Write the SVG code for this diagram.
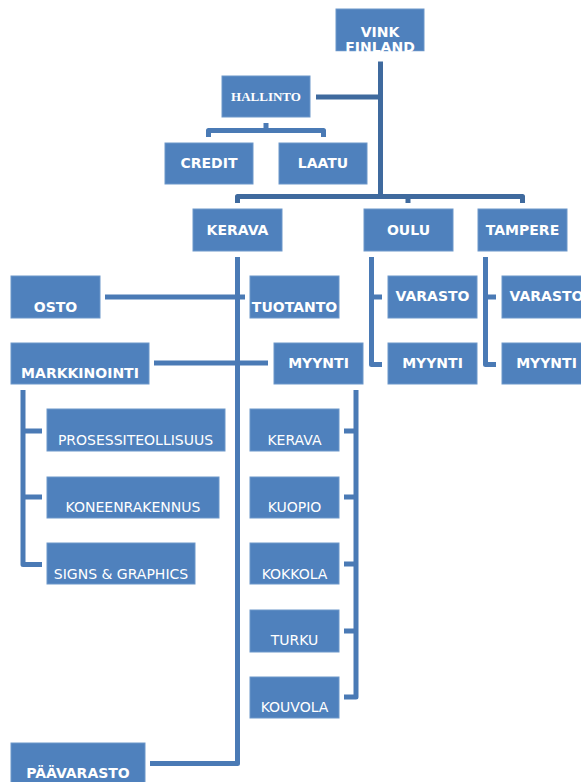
<svg xmlns="http://www.w3.org/2000/svg" width="581" height="782" viewBox="0 0 581 782">
<style>
.b{fill:#4F81BD;stroke:#6D97CA;stroke-width:1}
.t{fill:#fff;font-family:"DejaVu Sans",Verdana,sans-serif;font-size:14px;font-weight:bold;text-anchor:middle}
.n{fill:#fff;font-family:"DejaVu Sans",Verdana,sans-serif;font-size:14px;text-anchor:middle}
.s{fill:#fff;font-family:"Liberation Serif","Times New Roman",serif;font-size:13px;font-weight:bold;text-anchor:middle}
.c{fill:none;stroke:#4A7AB5;stroke-width:5;stroke-linejoin:round}
.d{fill:none;stroke:#3F6A9E;stroke-width:5;stroke-linejoin:round}
</style>
<rect width="581" height="782" fill="#fff"/>
<g id="connectors">
<path class="d" d="M380.5 56 V196"/>
<path class="d" d="M316 97 H380"/>
<path class="c" d="M208.5 137 V130.5 H323.5 V137 M266 123 V130"/>
<path class="d" d="M237.5 203 V196.5 H522.5 V203 M408 196 V203"/>
<path class="c" d="M237.5 257 V763.5 H150"/>
<path class="c" d="M105 297 H245"/>
<path class="c" d="M154 363 H268"/>
<path class="c" d="M371.5 257 V364.5 H382 M371 297 H382"/>
<path class="c" d="M485.5 257 V364.5 H496 M485 297 H496"/>
<path class="c" d="M23 390 V564.5 H42 M23 431 H42 M23 497 H42"/>
<path class="c" d="M356 390 V697 H344 M356 431 H344 M356 497 H344 M356 564 H344 M356 631 H344"/>
</g>
<g id="vink"><rect class="b" x="336" y="9" width="88" height="42"/><text class="t" x="380" y="37">VINK</text><text class="t" x="380" y="52">FINLAND</text></g>
<rect x="330" y="51.5" width="100" height="10" fill="#fff"/>
<g id="hallinto"><rect class="b" x="222" y="76" width="88" height="41"/><text class="s" x="266" y="101">HALLINTO</text></g>
<g id="credit"><rect class="b" x="165" y="143" width="88" height="41"/><text class="t" x="209" y="168">CREDIT</text></g>
<g id="laatu"><rect class="b" x="279" y="143" width="88" height="41"/><text class="t" x="323" y="168">LAATU</text></g>
<g id="kerava"><rect class="b" x="193" y="209" width="89" height="42"/><text class="t" x="237.5" y="235">KERAVA</text></g>
<g id="oulu"><rect class="b" x="364" y="209" width="89" height="42"/><text class="t" x="408.5" y="235">OULU</text></g>
<g id="tampere"><rect class="b" x="478" y="209" width="89" height="42"/><text class="t" x="522.5" y="235">TAMPERE</text></g>
<g id="osto"><rect class="b" x="11" y="276" width="89" height="42"/><text class="t" x="55.5" y="312">OSTO</text></g>
<g id="tuotanto"><rect class="b" x="250" y="276" width="89" height="42"/><text class="t" x="294.5" y="312">TUOTANTO</text></g>
<g id="oulu-varasto"><rect class="b" x="388" y="276" width="89" height="42"/><text class="t" x="432.5" y="301">VARASTO</text></g>
<g id="tampere-varasto"><rect class="b" x="502" y="276" width="89" height="42"/><text class="t" x="546.5" y="301">VARASTO</text></g>
<g id="markkinointi"><rect class="b" x="11" y="343" width="138" height="41"/><text class="t" x="80" y="378">MARKKINOINTI</text></g>
<g id="kerava-myynti"><rect class="b" x="274" y="343" width="89" height="41"/><text class="t" x="318.5" y="368">MYYNTI</text></g>
<g id="oulu-myynti"><rect class="b" x="388" y="343" width="89" height="41"/><text class="t" x="432.5" y="368">MYYNTI</text></g>
<g id="tampere-myynti"><rect class="b" x="502" y="343" width="89" height="41"/><text class="t" x="546.5" y="368">MYYNTI</text></g>
<g id="prosessiteollisuus"><rect class="b" x="47" y="409" width="178" height="42"/><text class="n" x="135.5" y="445">PROSESSITEOLLISUUS</text></g>
<g id="koneenrakennus"><rect class="b" x="47" y="477" width="172" height="41"/><text class="n" x="133" y="512">KONEENRAKENNUS</text></g>
<g id="signs"><rect class="b" x="47" y="543" width="148" height="41"/><text class="n" x="121" y="579">SIGNS &amp; GRAPHICS</text></g>
<g id="m-kerava"><rect class="b" x="250" y="409" width="89" height="42"/><text class="n" x="294.5" y="445">KERAVA</text></g>
<g id="m-kuopio"><rect class="b" x="250" y="477" width="89" height="41"/><text class="n" x="294.5" y="512">KUOPIO</text></g>
<g id="m-kokkola"><rect class="b" x="250" y="543" width="89" height="41"/><text class="n" x="294.5" y="579">KOKKOLA</text></g>
<g id="m-turku"><rect class="b" x="250" y="610" width="89" height="42"/><text class="n" x="294.5" y="645">TURKU</text></g>
<g id="m-kouvola"><rect class="b" x="250" y="677" width="89" height="41"/><text class="n" x="294.5" y="712">KOUVOLA</text></g>
<g id="paavarasto"><rect class="b" x="11" y="743" width="134" height="45"/><text class="t" x="78" y="778">PÄÄVARASTO</text></g>
</svg>
